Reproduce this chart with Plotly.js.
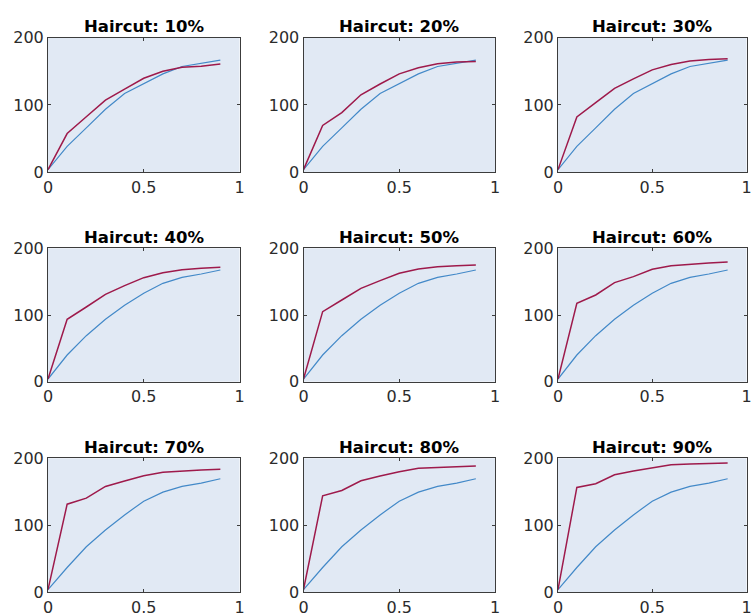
<!DOCTYPE html>
<html>
<head>
<meta charset="utf-8">
<script src="https://cdn.plot.ly/plotly-3.0.1.min.js"></script>
<style>html,body{margin:0;padding:0;background:#fff;}#chart{width:753px;height:616px;}</style>
</head>
<body>
<div id="chart"></div>
<script>
// Shared x values (fraction)
const xVals = [0, 0.1, 0.2, 0.3, 0.4, 0.5, 0.6, 0.7, 0.8, 0.9];
const panelTitles = ["Haircut: 10%", "Haircut: 20%", "Haircut: 30%",
                     "Haircut: 40%", "Haircut: 50%", "Haircut: 60%",
                     "Haircut: 70%", "Haircut: 80%", "Haircut: 90%"];
const xTickVals = [0, 0.5, 1];
const xTickText = ["0", "0.5", "1"];
const yTickVals = [0, 100, 200];
const yTickText = ["0", "100", "200"];

// Blue series (baseline), read per row
const blueRow1 = [4, 38.5, 66, 93.5, 117, 132, 146, 157, 161.5, 166.5];
const blueRow2 = [4, 40, 69, 93.5, 114.5, 132.5, 147.5, 156.5, 161.5, 167.5];
const blueRow3 = [4, 37, 68, 93, 115.5, 136, 149.5, 158, 163, 169.5];

// Red series per haircut
const red10 = [4, 57.5, 82.5, 107, 123.5, 139.5, 150, 156, 157.5, 160.5];
const red20 = [4, 69.5, 88.5, 115, 131, 146, 155, 161, 163.5, 164.5];
const red30 = [4, 82, 103.5, 124.5, 138.5, 152, 160, 165, 167.5, 168.5];
const red40 = [4, 93.5, 112, 131, 144, 156, 163.5, 168, 170, 171.5];
const red50 = [4, 105, 122.5, 140, 151.5, 162.5, 169, 172.5, 174, 175];
const red60 = [4, 117.5, 130, 148.5, 157.5, 168.5, 174, 176.5, 178, 179.5];
const red70 = [4, 131.5, 140.5, 158, 166, 174, 179, 181, 182.5, 183.5];
const red80 = [4, 144, 152, 166.5, 173.5, 180, 185, 186, 187.5, 188.5];
const red90 = [4, 156.5, 162, 175.5, 181, 186, 190.5, 191.5, 192, 193];

const redSeries = [red10, red20, red30, red40, red50, red60, red70, red80, red90];
const blueSeries = [blueRow1, blueRow1, blueRow1, blueRow2, blueRow2, blueRow2, blueRow3, blueRow3, blueRow3];

const W = 753, H = 616;
const colPx = [[48, 239.5], [303.5, 495], [558, 746.5]];
const rowPx = [[37.5, 172.3], [248.3, 381.7], [458.3, 592.3]];

const tickFont = {family: "DejaVu Sans", size: 16, color: "#2b2b2b"};
const data = [];
const layout = {
  width: W, height: H,
  margin: {l: 0, r: 0, t: 0, b: 0},
  paper_bgcolor: "#ffffff",
  plot_bgcolor: "#e1e9f4",
  showlegend: false,
  annotations: []
};

for (let i = 0; i < 9; i++) {
  const r = Math.floor(i / 3), c = i % 3;
  const n = i === 0 ? "" : String(i + 1);
  const xa = "x" + n, ya = "y" + n;
  data.push({x: xVals, y: blueSeries[i], xaxis: xa, yaxis: ya, type: "scatter", mode: "lines",
             line: {color: "#4389c8", width: 1.2}, hoverinfo: "skip"});
  data.push({x: xVals, y: redSeries[i], xaxis: xa, yaxis: ya, type: "scatter", mode: "lines",
             line: {color: "#9e1a4b", width: 1.5}, hoverinfo: "skip"});
  const xd = [colPx[c][0] / W, colPx[c][1] / W];
  const yd = [(H - rowPx[r][1]) / H, (H - rowPx[r][0]) / H];
  const common = {showline: true, linecolor: "#3c3c3c", linewidth: 1, mirror: "ticks",
                  ticks: "inside", ticklen: 3, tickcolor: "#3c3c3c", tickwidth: 1,
                  showgrid: false, zeroline: false, tickfont: tickFont, fixedrange: true,
                  ticklabeloverflow: "allow"};
  layout["xaxis" + n] = Object.assign({}, common, {domain: xd, range: [0, 1], anchor: ya,
                  tickvals: xTickVals, ticktext: xTickText});
  layout["yaxis" + n] = Object.assign({}, common, {domain: yd, range: [0, 200], anchor: xa,
                  tickvals: yTickVals, ticktext: yTickText});
  layout.annotations.push({
    text: panelTitles[i], xref: "paper", yref: "paper",
    x: (xd[0] + xd[1]) / 2, y: yd[1], xanchor: "center", yanchor: "bottom",
    yshift: -1, showarrow: false,
    font: {family: "DejaVu Sans", size: 16.5, color: "#000000", weight: "bold"}
  });
}

Plotly.newPlot("chart", data, layout, {displayModeBar: false, staticPlot: true});
</script>
</body>
</html>
